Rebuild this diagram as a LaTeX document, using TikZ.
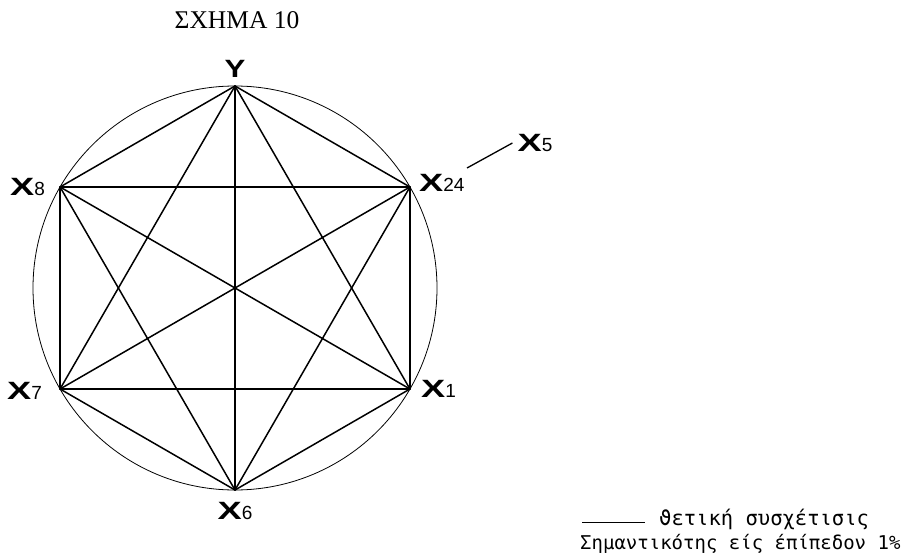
\documentclass[tikz,border=0pt]{standalone}
\usepackage{fontspec}
\usepackage{graphicx}
\usepackage{tikz}
\usetikzlibrary{positioning,calc}
\setmainfont{Liberation Sans}
\newfontfamily\titlefont{Liberation Serif}
\newfontfamily\typefont{DejaVu Sans Mono}
\newcommand{\xvar}[1]{{\fontsize{25}{25}\selectfont\bfseries\scalebox{1.45}[1]{X}}{\fontsize{19}{19}\selectfont#1}}

\begin{document}
\begin{tikzpicture}[x=1pt,y=1pt,
	lbl/.style={inner sep=1pt},
	edge/.style={line width=1.5pt, line cap=round}]
	\useasboundingbox (0,0) rectangle (912,558);
	\coordinate (c) at (235,270);
	\draw[line width=0.8pt] (c) circle (202);
	% vertices of the hexagon
	\foreach \n/\a in {y/90, x24/30, x1/-30, x6/-90, x7/210, x8/150}
		\coordinate (\n) at ($(c)+(\a:202)$);
	\foreach \a/\b in {y/x24, y/x1, y/x6, y/x7, y/x8, x24/x1, x24/x6, x24/x7, x24/x8, x1/x6, x1/x7, x1/x8, x6/x7, x6/x8, x7/x8}
		\draw[edge] (\a) -- (\b);
	\node[lbl, above=7pt] (ylbl) at (y) {\fontsize{25}{25}\selectfont\bfseries\scalebox{1.25}[1]{Y}};
	\node[lbl, left=14pt] (x8lbl) at (x8) {\xvar{8}};
	\node[lbl, right=8pt, yshift=4pt] (x24lbl) at (x24) {\xvar{24}};
	\node[lbl, left=17pt, yshift=-2pt] (x7lbl) at (x7) {\xvar{7}};
	\node[lbl, right=10pt] (x1lbl) at (x1) {\xvar{1}};
	\node[lbl, below=11pt] (x6lbl) at (x6) {\xvar{6}};
	\node[lbl] (x5lbl) at (535,415) {\xvar{5}};
	\coordinate (x5tail) at (467,390);
	\draw[line width=1.3pt] (x5tail) -- ([xshift=-4pt]x5lbl.west);
	\node (title) at (237,538) {\titlefont\fontsize{25.5}{25.5}\selectfont ΣΧΗΜΑ 10};
	% legend
	\coordinate (leg) at (582,36);
	\draw[line width=0.9pt] (leg) -- ++(63,0) coordinate (legend);
	\node[anchor=base west, inner sep=0pt] (legA) at (659,33) {\typefont\fontsize{20.5}{20.5}\selectfont ϑετική συσχέτισις};
	\node[anchor=base west, inner sep=0pt] (legB) at (580,9) {\typefont\fontsize{19}{19}\selectfont Σημαντικότης είς έπίπεδον 1\%};
\end{tikzpicture}
\end{document}
